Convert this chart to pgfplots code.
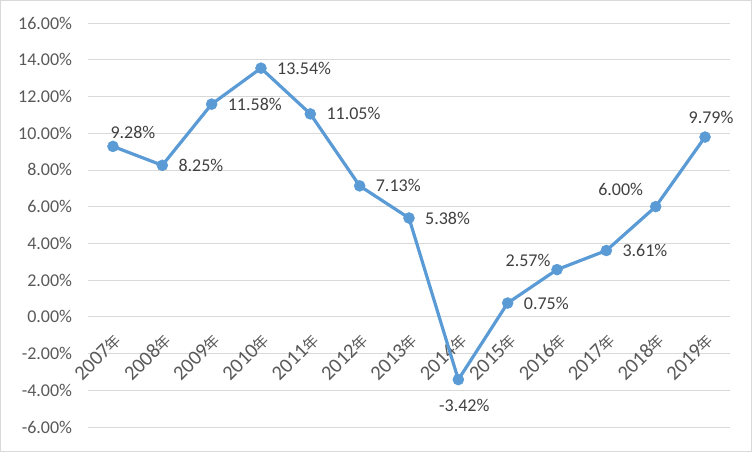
\documentclass[border=0pt]{standalone}
\usepackage{pgfplots}
\pgfplotsset{compat=1.18}
\usepackage{fontspec}
\setmainfont{Carlito}
\newfontfamily\cjk{Noto Sans CJK SC}
\newcommand{\lblfont}{\fontsize{18}{21}\selectfont}
\newcommand{\yr}[1]{{\fontsize{20.5}{23}\selectfont #1{\cjk\fontsize{15}{18}\selectfont 年}}}

\definecolor{lineblue}{RGB}{91,155,213}
\definecolor{gridgray}{RGB}{217,217,217}
\definecolor{ticktext}{RGB}{89,89,89}
\definecolor{datatext}{RGB}{64,64,64}

\pgfplotsset{
  datalabel/.style 2 args={draw=none, mark=none, point meta=y,
    nodes near coords={\pgfmathprintnumber[fixed,fixed zerofill,precision=2]{\pgfplotspointmeta}\%},
    every node near coord/.append style={anchor=center, xshift=#1, yshift=#2, font=\lblfont, text=datatext, inner sep=0pt}},
  rightlabel/.style={draw=none, mark=none, point meta=y,
    nodes near coords={\pgfmathprintnumber[fixed,fixed zerofill,precision=2]{\pgfplotspointmeta}\%},
    every node near coord/.append style={anchor=west, xshift=16pt, yshift=0pt, font=\lblfont, text=datatext, inner sep=0pt}},
}

\begin{document}
\begin{tikzpicture}
\begin{axis}[
scale only axis,
width=641.4pt, height=404pt,
xmin=-0.5, xmax=12.5,
ymin=-6, ymax=16,
ytick={-6,-4,...,16},
xtick={0,...,12},
xticklabels={\yr{2007},\yr{2008},\yr{2009},\yr{2010},\yr{2011},\yr{2012},\yr{2013},\yr{2014},\yr{2015},\yr{2016},\yr{2017},\yr{2018},\yr{2019}},
axis x line*=middle,
axis y line*=left,
axis line style={draw=none},
major tick length=0pt,
ymajorgrids,
grid style={gridgray, line width=0.8pt},
/pgf/number format/assume math mode=true,
yticklabel={\pgfmathprintnumber[fixed,fixed zerofill,precision=2]{\tick}\%},
yticklabel style={anchor=east, inner sep=0pt, xshift=-16pt, font=\lblfont, text=ticktext},
xticklabel style={rotate=45, anchor=north east, inner sep=0pt, text=ticktext},
xticklabel shift=15pt,
clip=false,
]
\draw[gridgray, line width=1pt] ([shift={(-87.8pt,-24.5pt)}]rel axis cs:0,0) rectangle ++(751pt,451pt);
% growth rate, 2007-2019
\addplot[lineblue, line width=3.2pt, mark=*, mark size=5.5pt,
  mark options={fill=lineblue, draw=lineblue, line width=0.5pt}]
coordinates {
(0,9.28) (1,8.25) (2,11.58) (3,13.54) (4,11.05) (5,7.13) (6,5.38)
(7,-3.42) (8,0.75) (9,2.57) (10,3.61) (11,6.00) (12,9.79)
};
% data labels
\addplot[rightlabel] coordinates {
(1,8.25) (2,11.58) (3,13.54) (4,11.05) (5,7.13) (6,5.38) (8,0.75) (10,3.61)
};
\addplot[datalabel={20pt}{14pt}] coordinates {(0,9.28)};
\addplot[datalabel={6pt}{-26pt}] coordinates {(7,-3.42)};
\addplot[datalabel={-29pt}{9pt}] coordinates {(9,2.57)};
\addplot[datalabel={-35pt}{17pt}] coordinates {(11,6.00)};
\addplot[datalabel={6pt}{20pt}] coordinates {(12,9.79)};
\end{axis}
\end{tikzpicture}
\end{document}
